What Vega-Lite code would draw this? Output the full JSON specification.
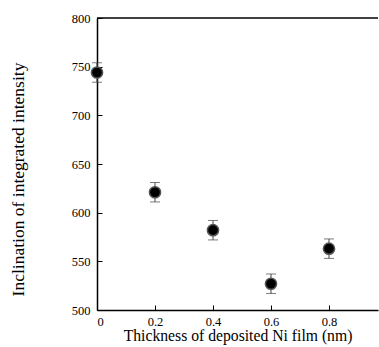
{
  "$schema": "https://vega.github.io/schema/vega-lite/v6.json",
  "width": 281,
  "height": 292,
  "autosize": "none",
  "padding": {"left": 97, "top": 18, "right": 1, "bottom": 37},
  "background": "white",
  "config": {
    "view": {"stroke": null},
    "font": "Liberation Serif",
    "axis": {"grid": false, "domainColor": "black", "domainWidth": 1.5, "tickColor": "black", "labelColor": "black", "titleColor": "black", "labelFont": "Liberation Serif", "titleFont": "Liberation Serif", "titleFontWeight": "normal", "labelFontSize": 12.5, "titleFontSize": 15.7}
  },
  "data": {"values": [
    {"t": 0.0, "v": 744, "lo": 734, "hi": 754},
    {"t": 0.2, "v": 621, "lo": 611, "hi": 631},
    {"t": 0.4, "v": 582, "lo": 572, "hi": 592},
    {"t": 0.6, "v": 527, "lo": 517, "hi": 537},
    {"t": 0.8, "v": 563, "lo": 553, "hi": 573}
  ]},
  "layer": [
    {
      "data": {"values": [{"top": 800}]},
      "mark": {"type": "rule", "color": "black", "strokeWidth": 1.5},
      "encoding": {"y": {"field": "top", "type": "quantitative", "scale": {"domain": [500, 800]}}}
    },
    {
      "mark": {"type": "rule", "color": "#444", "strokeWidth": 1},
      "encoding": {
        "x": {"field": "t", "type": "quantitative", "scale": {"domain": [0, 0.969], "nice": false}},
        "y": {"field": "lo", "type": "quantitative"},
        "y2": {"field": "hi"}
      }
    },
    {
      "mark": {"type": "tick", "color": "#444", "thickness": 1, "size": 10, "orient": "horizontal"},
      "encoding": {
        "x": {"field": "t", "type": "quantitative"},
        "y": {"field": "lo", "type": "quantitative"}
      }
    },
    {
      "mark": {"type": "tick", "color": "#444", "thickness": 1, "size": 10, "orient": "horizontal"},
      "encoding": {
        "x": {"field": "t", "type": "quantitative"},
        "y": {"field": "hi", "type": "quantitative"}
      }
    },
    {
      "mark": {"type": "point", "shape": "circle", "filled": true, "fill": "black", "stroke": "#555", "strokeWidth": 1.5, "size": 125, "opacity": 1},
      "encoding": {
        "x": {"field": "t", "type": "quantitative", "scale": {"domain": [0, 0.969], "nice": false},
          "axis": {"title": "Thickness of deposited Ni film (nm)", "values": [0, 0.1, 0.2, 0.3, 0.4, 0.5, 0.6, 0.7, 0.8, 0.9], "tickSize": -5, "labelPadding": 10, "titlePadding": 1, "labelExpr": "datum.value == 0 ? '0' : (round(datum.value * 10) % 2 == 0 ? format(datum.value, '.1f') : '')"}},
        "y": {"field": "v", "type": "quantitative", "scale": {"domain": [500, 800], "nice": false},
          "axis": {"title": "Inclination of integrated intensity", "titleFontSize": 17.5, "titleY": 161, "values": [500, 550, 600, 650, 700, 750, 800], "tickSize": -5, "labelPadding": 12, "titlePadding": 44}}
      }
    }
  ]
}
